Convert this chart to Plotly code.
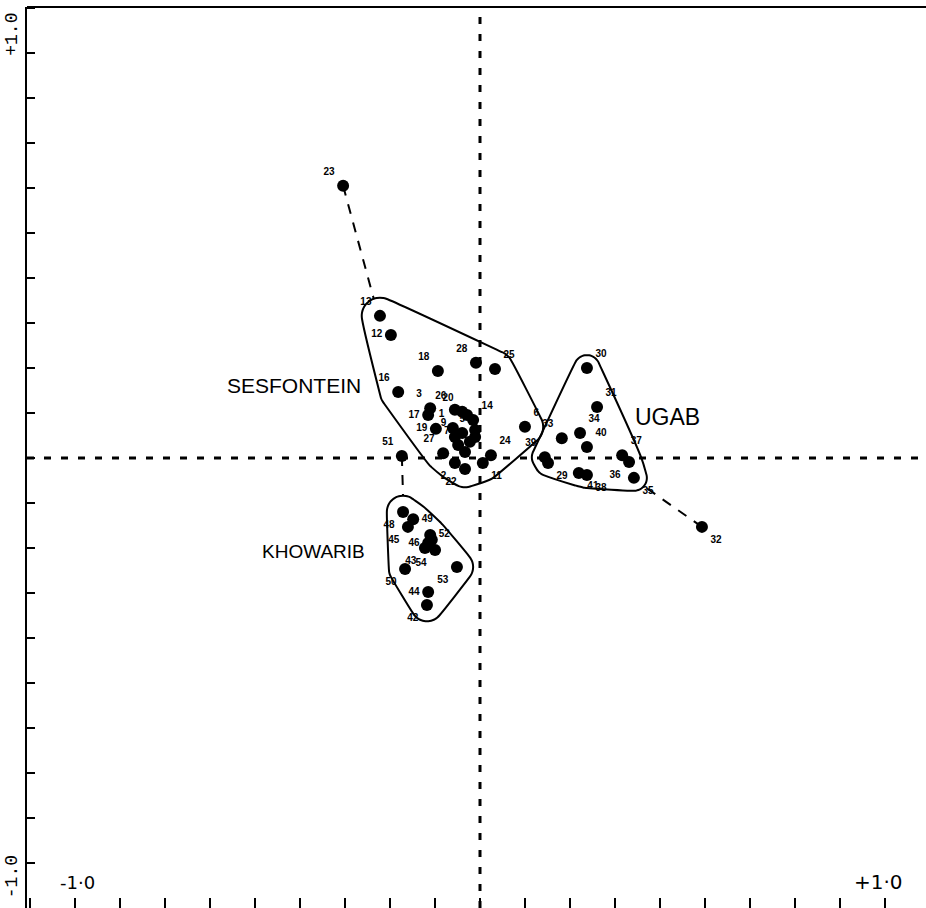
import numpy as np
import plotly.graph_objects as go

# ---- ordination scores (axis 1, axis 2) for the 54 sampling sites ----
ses_ids = list(range(1, 29))
ses_x = [-0.067, -0.062, -0.123, -0.032, -0.044, 0.111, -0.054, -0.037, -0.062, -0.012,
         0.007, -0.220, -0.247, -0.017, -0.012, -0.202, -0.128, -0.104, -0.109, -0.044,
         -0.025, -0.037, -0.338, 0.027, 0.037, -0.062, -0.091, -0.010]
ses_y = [0.074, -0.012, 0.123, 0.106, 0.062, 0.077, 0.032, 0.015, 0.052, 0.069,
         -0.012, 0.304, 0.351, 0.094, 0.052, 0.163, 0.106, 0.215, 0.072, 0.114,
         0.040, -0.027, 0.672, 0.007, 0.220, 0.119, 0.012, 0.235]

ugab_ids = list(range(29, 42))
ugab_x = [0.168, 0.264, 0.289, 0.548, 0.202, 0.247, 0.380, 0.368, 0.351, 0.264, 0.160, 0.264, 0.244]
ugab_y = [-0.012, 0.222, 0.126, -0.170, 0.049, 0.062, -0.049, -0.010, 0.007, -0.042, 0.002, 0.027, -0.037]

khow_ids = list(range(42, 55))
khow_x = [-0.131, -0.136, -0.128, -0.178, -0.128, -0.119, -0.190, -0.165, -0.185, -0.193, -0.123, -0.057, -0.111]
khow_y = [-0.363, -0.222, -0.331, -0.170, -0.210, -0.202, -0.133, -0.151, -0.274, 0.005, -0.190, -0.269, -0.227]

# outlying sites joined to their group by a dashed line
outliers = {"SESFONTEIN": 23, "UGAB": 32, "KHOWARIB": 51}
# sites whose numbers are lost inside the dense cluster
unlabelled = {4, 10, 15, 21, 47}

group_names = ["SESFONTEIN", "UGAB", "KHOWARIB"]

# ---- label placement (style) ----
label_pos = {
    1: "top left", 2: "bottom left", 3: "top left", 5: "top center", 6: "top right",
    7: "top left", 8: "top right", 9: "top left", 11: "bottom right", 12: "middle left",
    13: "top left", 14: "top right", 16: "top left", 17: "middle left", 18: "top left",
    19: "middle left", 20: "top left", 22: "bottom left", 23: "top left", 24: "top right",
    25: "top right", 26: "top left", 27: "top left", 28: "top left",
    29: "bottom right", 30: "top right", 31: "top right", 32: "bottom right", 33: "top left",
    34: "top right", 35: "bottom right", 36: "bottom left", 37: "top right", 38: "bottom right",
    39: "top left", 40: "top right", 41: "bottom right",
    42: "bottom left", 43: "bottom left", 44: "middle left", 45: "bottom left",
    46: "middle left", 48: "bottom left", 49: "middle right", 50: "bottom left",
    51: "top left", 52: "middle right", 53: "bottom left", 54: "bottom left",
}
hull_pad = {"SESFONTEIN": 0.045, "UGAB": 0.032, "KHOWARIB": 0.040}
group_label = {
    "SESFONTEIN": dict(x=-0.459, y=0.178, size=21),
    "UGAB": dict(x=0.464, y=0.101, size=23),
    "KHOWARIB": dict(x=-0.412, y=-0.230, size=19),
}

groups = {
    "SESFONTEIN": (ses_ids, ses_x, ses_y),
    "UGAB": (ugab_ids, ugab_x, ugab_y),
    "KHOWARIB": (khow_ids, khow_x, khow_y),
}


def convex_hull(points):
    pts = sorted(set(points))

    def cross(o, a, b):
        return (a[0] - o[0]) * (b[1] - o[1]) - (a[1] - o[1]) * (b[0] - o[0])

    lower, upper = [], []
    for p in pts:
        while len(lower) >= 2 and cross(lower[-2], lower[-1], p) <= 0:
            lower.pop()
        lower.append(p)
    for p in reversed(pts):
        while len(upper) >= 2 and cross(upper[-2], upper[-1], p) <= 0:
            upper.pop()
        upper.append(p)
    return lower[:-1] + upper[:-1]


def padded_hull(xs, ys, r, n=36):
    t = np.linspace(0, 2 * np.pi, n, endpoint=False)
    pts = []
    for x, y in zip(xs, ys):
        for a in t:
            pts.append((round(x + r * np.cos(a), 6), round(y + r * np.sin(a), 6)))
    h = convex_hull(pts)
    h.append(h[0])
    return [p[0] for p in h], [p[1] for p in h]


fig = go.Figure()

label_font = dict(family="Liberation Sans, Arial, sans-serif", size=10, color="black", weight="bold")

for name in group_names:
    ids, xs, ys = groups[name]
    out_id = outliers[name]
    core = [(x, y) for i, x, y in zip(ids, xs, ys) if i != out_id]
    hx, hy = padded_hull([c[0] for c in core], [c[1] for c in core], hull_pad[name])
    fig.add_trace(go.Scatter(x=hx, y=hy, mode="lines", line=dict(color="black", width=2, shape="spline"),
                             hoverinfo="skip", showlegend=False))

    # dashed link from the outlier to the nearest point of its group envelope
    k = ids.index(out_id)
    ox, oy = xs[k], ys[k]
    d = [(hx[j] - ox) ** 2 + (hy[j] - oy) ** 2 for j in range(len(hx))]
    j = int(np.argmin(d))
    fig.add_trace(go.Scatter(x=[ox, hx[j]], y=[oy, hy[j]], mode="lines",
                             line=dict(color="black", width=2, dash="10px,9px"),
                             hoverinfo="skip", showlegend=False))

    texts = ["" if i in unlabelled else str(i) for i in ids]
    pos = [label_pos.get(i, "top left") for i in ids]
    fig.add_trace(go.Scatter(
        x=xs, y=ys, mode="markers+text", text=texts, textposition=pos,
        textfont=label_font, marker=dict(color="black", size=12, line=dict(width=0)),
        name=name, showlegend=False))

    gl = group_label[name]
    fig.add_annotation(x=gl["x"], y=gl["y"], text=name, showarrow=False,
                       font=dict(family="Liberation Sans, Arial, sans-serif", size=gl["size"], color="black"))

# dashed origin lines
fig.add_shape(type="line", xref="x", yref="paper", x0=0, x1=0, y0=0, y1=1,
              line=dict(color="black", width=3, dash="7px,10px"), layer="below")
fig.add_shape(type="line", xref="paper", yref="y", x0=0, x1=1, y0=0, y1=0,
              line=dict(color="black", width=3, dash="7px,10px"), layer="below")
# top frame line
fig.add_shape(type="line", xref="paper", yref="paper", x0=0, x1=1, y0=1, y1=1,
              line=dict(color="black", width=2))

# axis end labels
mono = dict(family="Liberation Mono, Courier New, monospace", size=18, color="black")
fig.add_annotation(xref="paper", yref="y", x=0, xshift=-15, xanchor="center", y=1.045,
                   text="+1.0", textangle=-90, showarrow=False, font=mono)
fig.add_annotation(xref="paper", yref="y", x=0, xshift=-15, xanchor="center", y=-1.035,
                   text="-1.0", textangle=-90, showarrow=False, font=mono)
hand = dict(family="DejaVu Sans, sans-serif", size=18, color="black")
fig.add_annotation(x=-0.993, y=-1.049, text="-1·0", showarrow=False, font=hand)
fig.add_annotation(x=0.985, y=-1.047, text="+1·0", showarrow=False, font=dict(hand, size=20))

ticks = [k / 9 for k in range(-10, 11)]
fig.update_xaxes(range=[-1.1185, 1.1012], showgrid=False, zeroline=False, showline=False,
                 ticks="inside", ticklen=10, tickwidth=2, tickcolor="black",
                 tickvals=ticks, showticklabels=False)
fig.update_yaxes(range=[-1.111, 1.1136], showgrid=False, zeroline=False, showline=True,
                 linecolor="black", linewidth=2, mirror=False,
                 ticks="inside", ticklen=8, tickwidth=2, tickcolor="black",
                 tickvals=ticks, showticklabels=False)
fig.update_layout(width=926, height=908, margin=dict(l=27, r=0, t=7, b=0),
                  plot_bgcolor="white", paper_bgcolor="white", showlegend=False)

fig.write_html("out.html")
